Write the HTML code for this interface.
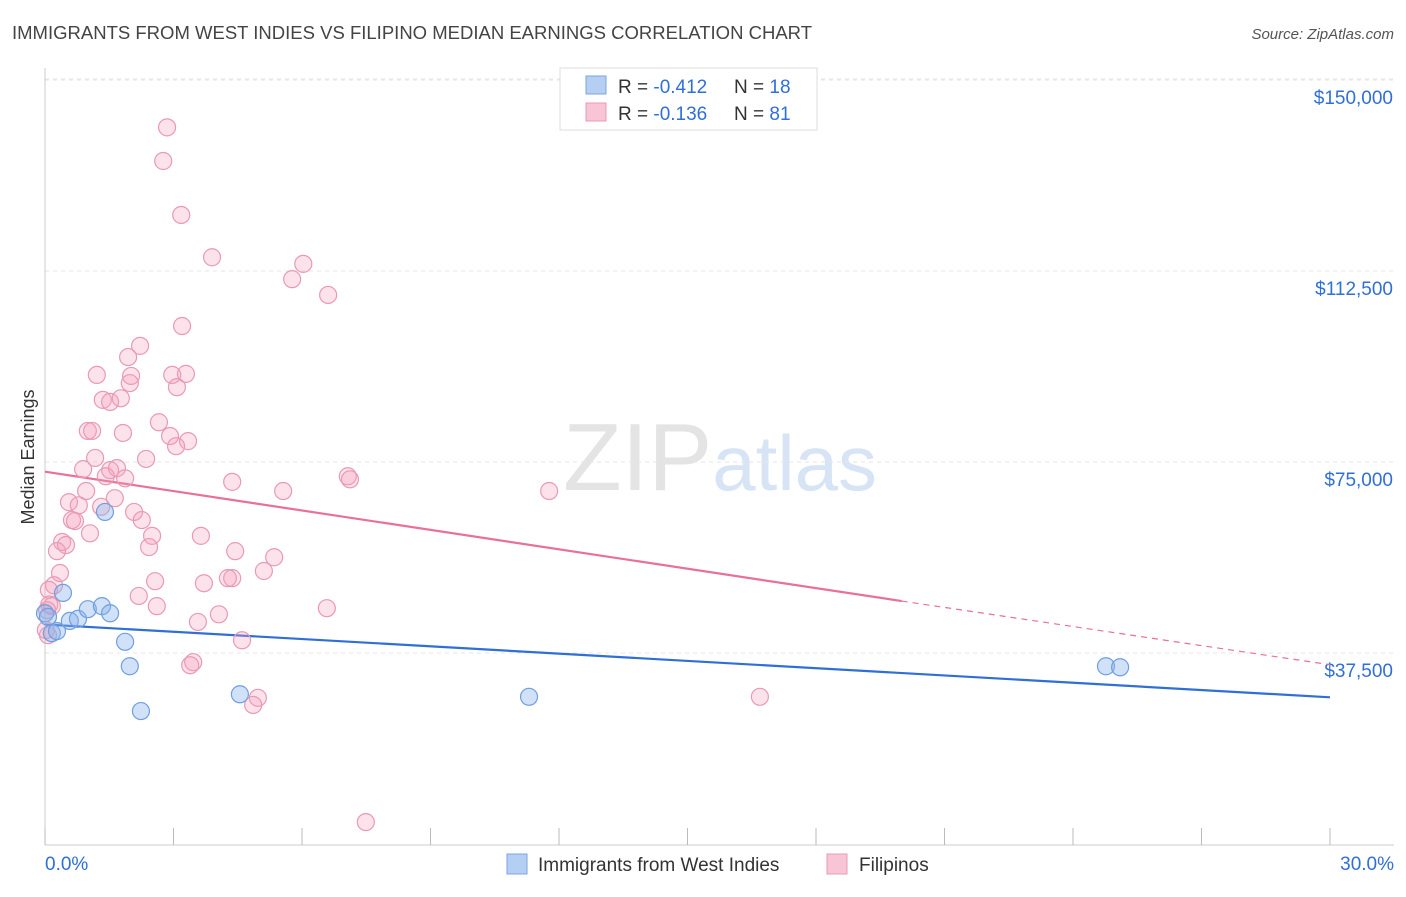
<!DOCTYPE html>
<html><head><meta charset="utf-8"><style>
body{margin:0;background:#fff;font-family:"Liberation Sans",sans-serif;}
svg text{font-family:"Liberation Sans",sans-serif;}
</style></head><body>
<svg id="chart" width="1406" height="892" xmlns="http://www.w3.org/2000/svg">
<text x="12" y="39" font-size="18" fill="#444" textLength="800" lengthAdjust="spacingAndGlyphs">IMMIGRANTS FROM WEST INDIES VS FILIPINO MEDIAN EARNINGS CORRELATION CHART</text>
<text x="1394" y="39" font-size="15" fill="#555" font-style="italic" text-anchor="end">Source: ZipAtlas.com</text>
<text x="720" y="490" font-size="96" text-anchor="middle" fill="#e4e4e4" font-family="Liberation Serif">ZIP<tspan fill="#d6e4f5" font-family="Liberation Sans" font-size="78">atlas</tspan></text>
<text transform="translate(34,457) rotate(-90)" font-size="18" fill="#333" text-anchor="middle">Median Earnings</text>
<g id="grid"></g><g id="axes"></g><g id="lines"></g><g id="pts"></g>
<g>
<rect x="560" y="68" width="257" height="62" fill="#fff" stroke="#ddd"/>
<rect x="586" y="76" width="20" height="18" fill="#b5cff3" stroke="#7aa6e0"/>
<text x="618" y="93" font-size="19" fill="#333">R = <tspan fill="#2f6fd6">-0.412</tspan></text>
<text x="734" y="93" font-size="19" fill="#333">N = <tspan fill="#2f6fd6">18</tspan></text>
<rect x="586" y="103" width="20" height="18" fill="#f8c5d6" stroke="#e89ab4"/>
<text x="618" y="120" font-size="19" fill="#333">R = <tspan fill="#2f6fd6">-0.136</tspan></text>
<text x="734" y="120" font-size="19" fill="#333">N = <tspan fill="#2f6fd6">81</tspan></text>
</g>
<g>
<rect x="507" y="854" width="20" height="20" fill="#b5cff3" stroke="#7aa6e0"/>
<text x="538" y="871" font-size="19" fill="#333">Immigrants from West Indies</text>
<rect x="827" y="854" width="20" height="20" fill="#f8c5d6" stroke="#e89ab4"/>
<text x="859" y="871" font-size="19" fill="#333">Filipinos</text>
</g>
</svg>
<script>
const yTicks=[37500,75000,112500,150000];
const yTickLabels=["$37,500","$75,000","$112,500","$150,000"];
const xTickLabels=["0.0%","30.0%"];
const blueX=[0,0.07,0.16,0.28,0.42,0.58,0.77,1.00,1.33,1.52,1.40,1.87,1.98,2.24,4.55,11.30,24.77,25.10];
const blueY=[45.3,44.6,41.4,41.8,49.3,43.8,44.2,46.1,46.7,45.3,65.2,39.7,34.9,26.1,29.4,28.9,34.9,34.7];
const pinkX=[2.85,2.76,3.18,3.90,5.77,6.03,6.61,3.20,2.22,1.94,1.21,2.01,2.97,3.29,1.98,3.08,1.35,1.52,1.77,2.66,1.00,1.10,1.82,2.92,3.34,3.06,1.17,2.36,0.89,1.52,1.68,1.42,1.87,4.37,7.07,7.12,11.77,5.56,0.96,0.56,1.63,0.79,1.31,2.08,2.26,0.63,0.70,1.05,2.50,3.64,0.40,0.49,2.43,0.28,4.44,5.35,5.11,0.35,4.37,2.57,0.21,3.71,0.09,2.19,2.61,6.58,0.16,0.05,4.06,3.57,0.07,4.60,3.46,3.39,4.97,4.86,16.69,7.49,4.27,0.02,0.1];
const pinkY=[140.7,134.1,123.5,115.2,110.9,113.9,107.8,101.7,97.8,95.6,92.1,91.9,92.1,92.3,90.5,89.7,87.2,86.8,87.5,82.8,81.1,81.1,80.7,80.1,79.1,78.1,75.8,75.6,73.6,73.4,73.8,72.2,71.8,71.1,72.2,71.6,69.3,69.3,69.3,67.1,67.9,66.5,66.2,65.2,63.6,63.6,63.4,61.0,60.5,60.5,59.3,58.7,58.3,57.5,57.5,56.3,53.6,53.2,52.2,51.6,50.8,51.2,49.9,48.7,46.7,46.3,46.7,45.9,45.1,43.6,41.0,40.0,35.7,35.1,28.7,27.3,28.9,4.3,52.2,42,47];
const blueTrend=[[0,43.1],[30,28.8]];
const pinkTrend=[[0,73.1],[20,47.7],[30,35.2]];
const NS="http://www.w3.org/2000/svg";
const xs=p=>45+p*(1285/30);
const ys=v=>844-v*1000/37500*191;
function mk(tag,attrs,parent){const e=document.createElementNS(NS,tag);for(const k in attrs)e.setAttribute(k,attrs[k]);document.getElementById(parent).appendChild(e);return e;}
yTicks.forEach((t,i)=>{
 const g=mk('line',{x1:45,x2:1394,y1:ys(t/1000),y2:ys(t/1000),stroke:'#e6e6e6','stroke-dasharray':'4,4'},'grid');
 
 
 const l=mk('text',{x:1393,y:ys(t/1000)+24,'font-size':19,fill:'#2f6fd6','text-anchor':'end'},'axes');
 l.textContent=yTickLabels[i];
 
 
});
const topGrid=mk('line',{x1:45,x2:1394,y1:79,y2:79,stroke:'#e6e6e6','stroke-dasharray':'4,4'},'grid');


const ya=mk('line',{x1:45,x2:45,y1:68,y2:845,stroke:'#ccc'},'axes');


const xa=mk('line',{x1:45,x2:1394,y1:845,y2:845,stroke:'#ccc'},'axes');


for(let i=0;i<=10;i++){const t=mk('line',{x1:xs(i*3),x2:xs(i*3),y1:828,y2:845,stroke:'#bbb'},'axes');
 
 }
[[0,'start',45],[30,'end',1394]].forEach((d,i)=>{const t=mk('text',{x:d[2],y:870,'font-size':19,fill:'#2f6fd6','text-anchor':d[1]},'axes');t.textContent=xTickLabels[i];
 
 });
function pts(X,Y,fill,stroke,name){X.forEach((x,i)=>{const c=mk('circle',{cx:xs(x),cy:ys(Y[i]),r:8.5,fill:fill,stroke:stroke,'stroke-width':1.2},'pts');
 
 });}
pts(pinkX,pinkY,'rgba(244,160,190,0.3)','#e89ab4','filipino-point');
pts(blueX,blueY,'rgba(140,180,235,0.4)','#6f9fe0','west-indies-point');
const bl=mk('line',{x1:xs(blueTrend[0][0]),y1:ys(blueTrend[0][1]),x2:xs(blueTrend[1][0]),y2:ys(blueTrend[1][1]),stroke:'#2f6fd6','stroke-width':2.2},'lines');


const pl=mk('line',{x1:xs(pinkTrend[0][0]),y1:ys(pinkTrend[0][1]),x2:xs(pinkTrend[1][0]),y2:ys(pinkTrend[1][1]),stroke:'#e8709a','stroke-width':2.2},'lines');


const pd=mk('line',{x1:xs(pinkTrend[1][0]),y1:ys(pinkTrend[1][1]),x2:xs(pinkTrend[2][0]),y2:ys(pinkTrend[2][1]),stroke:'#e8709a','stroke-width':1.2,'stroke-dasharray':'6,5'},'lines');


</script>
</body></html>
